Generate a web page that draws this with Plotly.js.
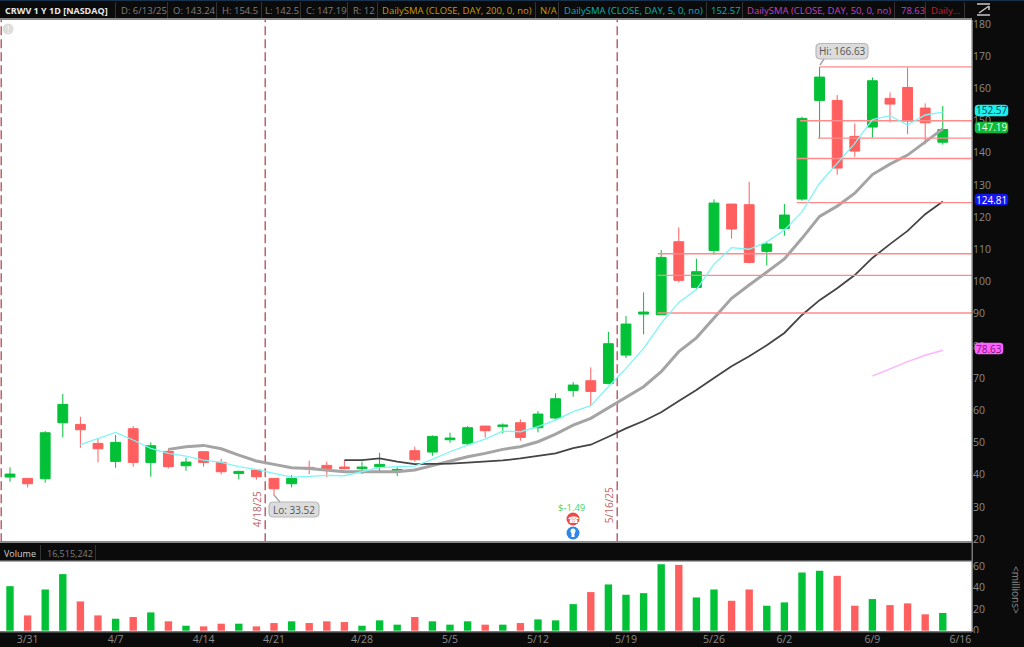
<!DOCTYPE html>
<html><head><meta charset="utf-8">
<script src="https://cdn.plot.ly/plotly-3.0.1.min.js"></script>
<style>html,body{margin:0;padding:0;background:#0b0b0b;overflow:hidden}#chart{width:1024px;height:647px}</style>
</head><body><div id="chart"></div>
<script>
const opens=[39.26,38.84,38.74,56.13,55.61,49.71,44.12,54.27,43.81,47.23,42.78,47.12,43.81,40.39,41.43,38.84,37.19,42.26,42.88,42.36,41.85,42.47,41.12,47.44,47.02,50.85,49.61,55.10,55.0,56.13,54.58,57.58,66.17,69.17,68.35,77.14,89.88,89.67,112.34,98.16,109.65,124.04,123.83,109.34,116.48,125.59,156.23,156.23,145.05,147.95,156.85,160.26,153.85,143.24];
const highs=[42.26,38.84,53.54,65.03,57.99,51.37,52.30,55.09,50.02,48.16,45.26,47.33,44.95,41.22,41.74,38.84,39.88,44.33,44.02,44.54,44.02,46.82,42.26,48.68,52.20,53.03,55.10,55.10,55.92,57.17,59.75,65.24,68.76,73.32,84.39,89.25,96.61,109.76,116.79,107.06,125.49,124.04,130.98,112.34,124.04,151.16,166.63,157.88,149.08,163.37,158.71,166.48,155.30,154.5];
const lows=[37.80,36.05,37.50,51.57,48.37,43.81,42.15,42.47,39.36,41.95,41.22,42.47,40.08,38.53,38.43,33.52,36.05,40.19,39.15,41.64,40.19,40.91,39.57,44.02,45.88,49.92,49.20,51.47,52.82,50.54,53.13,57.17,64.21,61.31,68.04,76.21,83.57,89.67,99.71,97.54,108.31,113.27,105.61,105.0,114.21,125.07,144.53,133.14,138.73,144.63,149.40,145.77,142.56,142.5];
const closes=[40.19,37.19,53.02,61.82,53.96,48.05,50.02,43.81,48.99,42.47,43.91,43.81,40.91,41.02,39.36,35.63,38.84,41.84,41.95,41.85,42.36,43.19,41.64,44.64,51.89,51.37,54.58,53.65,55.41,51.58,58.82,63.58,67.83,65.86,80.67,86.77,90.50,107.48,100.34,103.03,124.35,116.28,105.92,111.62,120.62,150.64,163.47,135.21,140.49,162.33,155.09,149.81,149.29,147.19];
const volumes=[41.4,14.2,38.3,52.6,27.2,14.2,11.1,12.7,17,8.7,4.6,4,6.5,6.5,4,7.1,8.7,7.1,8.7,8,4.6,9.6,5.6,12.7,8.7,5.6,8.7,5.6,5.6,7.1,10.5,9.6,24.7,35.9,43,33.4,34.9,61.8,61.2,30.9,38.3,27.8,38.3,23.2,26.3,54.1,55.7,51,23.2,29.4,23.8,25.4,15.2,16.5];
const smaFive=[null,null,null,null,49.30,51.16,53.13,50.76,48.16,46.61,45.78,44.54,43.81,42.47,41.64,40.39,39.26,39.46,39.77,39.67,40.91,42.16,42.47,42.67,44.75,47.12,49.2,51.06,53.54,53.33,54.89,56.96,59.55,61.41,67.31,73.0,79.2,87.0,93.5,97.5,105.4,110.5,110,112.3,116,121.6,130.5,136.7,142.9,150.3,151.5,148.6,151.7,152.57];
const smaGray=[null,null,null,null,null,null,null,null,null,47.85,48.7,49.09,48.05,46.09,44.22,43.19,42.15,41.95,41.33,40.91,40.91,40.91,40.91,41.43,42.78,44.33,45.57,46.61,47.85,48.68,50.23,52.61,55.41,57.48,60.79,64.21,67.31,71.97,78.2,82.5,88.5,94.75,98.9,103,107,113.4,120.2,123.4,127.4,133.2,136.45,139.25,143.4,147.4];
const smaDark=[null,null,null,null,null,null,null,null,null,null,null,null,null,null,null,null,null,null,null,44.54,44.54,45.05,44.02,43.3,43.3,43.4,43.71,44.02,44.43,45.05,45.78,46.61,48.26,49.3,51.78,54.37,56.65,59.4,62.9,66.3,70,73.7,76.8,80.2,84,89.6,94.2,97.9,102,107.3,111.6,115.7,120.9,124.81];
const smaPink=[null,null,null,null,null,null,null,null,null,null,null,null,null,null,null,null,null,null,null,null,null,null,null,null,null,null,null,null,null,null,null,null,null,null,null,null,null,null,null,null,null,null,null,null,null,null,null,null,null,70.6,72.9,75.1,77.1,78.63];
const levelValues=[166.63,149.9,144.53,138.2,124.5,108.6,101.9,90.2];
const levelStarts=[46,44.9,45.9,44.7,44.7,36.8,36.8,36.8];
const levelEnds=[55,55,55,55,55,55,55,55];
const markerBars=[-0.5,14.5,34.5];
const markerDates=["","4/18/25","5/16/25"];
const xTickBars=[1,6,11,15,20,25,30,35,40,44,49,54];
const xTickLabels=["3/31","4/7","4/14","4/21","4/28","5/5","5/12","5/19","5/26","6/2","6/9","6/16"];
const priceTicks=[20,30,40,50,60,70,80,90,100,110,120,130,140,150,160,170,180];
const volumeTicks=[0,20,40,60];
const headerItems=[
 ["CRWV 1 Y 1D [NASDAQ]",3,"#e8e8e8",true],["D: 6/13/25",119,"#7f7f7f"],["O: 143.24",171,"#7f7f7f"],["H: 154.5",220,"#7f7f7f"],
 ["L: 142.5",263,"#7f7f7f"],["C: 147.19",304,"#7f7f7f"],["R: 12",351,"#7f7f7f"],["DailySMA (CLOSE, DAY, 200, 0, no)",380,"#c49a00"],
 ["N/A",538,"#c49a00"],["DailySMA (CLOSE, DAY, 5, 0, no)",562,"#00b3b3"],["152.57",709,"#00b3b3"],
 ["DailySMA (CLOSE, DAY, 50, 0, no)",745,"#c23fc2"],["78.63",899,"#c23fc2"],["Daily...",929,"#c01f35"]];
const headerSeps=[115,167,216,261,300,347,377,535,558,706,742,894,925,964];

const GREEN="#02c137",RED="#ff5f5f",FONT='"Open Sans","Noto Sans",sans-serif';
const bars=closes.map((_,i)=>i);
const X=i=>i/1024, Y=i=>1-i/647;
const line=(y,c,w)=>({x:bars,y:y,yaxis:"y",type:"scatter",mode:"lines",hoverinfo:"skip",line:{color:c,width:w},connectgaps:false});

const data=[];
markerBars.forEach(b=>data.push({x:[b,b],y:[19,182],type:"scatter",mode:"lines",hoverinfo:"skip",line:{color:"#b34a52",width:1.3,dash:"9px,4px"}}));
data.push(line(smaGray,"#a4a4a4",3));
data.push(line(smaDark,"#444444",1.8));
data.push(line(smaPink,"#ffb3ff",1.5));
data.push({type:"candlestick",x:bars,open:opens,high:highs,low:lows,close:closes,xaxis:"x",yaxis:"y",whiskerwidth:0,
  increasing:{line:{color:GREEN,width:1},fillcolor:GREEN},decreasing:{line:{color:RED,width:1},fillcolor:RED},hoverinfo:"skip"});
levelValues.forEach((v,i)=>data.push({x:[levelStarts[i],levelEnds[i]],y:[v,v],type:"scatter",mode:"lines",hoverinfo:"skip",line:{color:"#ff8a8a",width:1.4}}));
data.push(line(smaFive,"#7ff5f5",1.3));
data.push({type:"bar",x:bars,y:volumes,yaxis:"y2",width:0.42,marker:{color:closes.map((c,i)=>c>=opens[i]?GREEN:RED),line:{width:0}},hoverinfo:"skip"});

const ann=[];
const txt=(t,px,py,c,s,extra)=>Object.assign({text:t,xref:"paper",yref:"paper",x:X(px),y:Y(py),xanchor:"left",yanchor:"middle",showarrow:false,font:{family:FONT,size:s,color:c}},extra||{});
headerItems.forEach(h=>ann.push(h[3]?txt("<b>"+h[0]+"</b>",h[1],10,h[2],9):txt(h[0],h[1],10,h[2],9.5)));
ann.push(txt("Volume",2,553,"#d0d0d0",9));
ann.push(txt("16,515,242",45,553,"#7f7f7f",9));
ann.push(txt("<millions>",1016,590,"#8a8a8a",10,{xanchor:"center",textangle:90}));
markerDates.forEach((d,i)=>{ if(d) ann.push({text:d,xref:"x",yref:"paper",x:markerBars[i],y:Y(i==1?509:505),xshift:-8,xanchor:"center",yanchor:"middle",textangle:-90,showarrow:false,font:{family:FONT,size:10,color:"#b66"}}); });

const shapes=[];
const pRect=(x0,y0,x1,y1,c,l)=>({type:"rect",xref:"paper",yref:"paper",x0:X(x0),x1:X(x1),y0:Y(y0),y1:Y(y1),fillcolor:c,line:{width:0},layer:l||"above"});
const round=(x0,y0,x1,y1,r,c,b,bw)=>{const P=(a,d)=>X(a)+","+Y(d);
  return {type:"path",xref:"paper",yref:"paper",layer:"above",fillcolor:c,line:{color:b,width:bw},
   path:"M"+P(x0+r,y0)+" L"+P(x1-r,y0)+" Q"+P(x1,y0)+" "+P(x1,y0+r)+" L"+P(x1,y1-r)+" Q"+P(x1,y1)+" "+P(x1-r,y1)+" L"+P(x0+r,y1)+" Q"+P(x0,y1)+" "+P(x0,y1-r)+" L"+P(x0,y0+r)+" Q"+P(x0,y0)+" "+P(x0+r,y0)+" Z"};};
const tag=(t,x0,x1,y0,y1,bg,fg)=>{shapes.push(round(x0,y0,x1,y1,3,bg,bg,0.5));ann.push(txt(t,(x0+x1)/2,(y0+y1)/2,fg,10,{xanchor:"center"}));};
const bubble=(t,x0,x1,y0,y1)=>{shapes.push(round(x0,y0,x1,y1,4.5,"#dcdcdc","#b8b8b8",1.2));ann.push(txt(t,(x0+x1)/2,(y0+y1)/2,"#555555",10,{xanchor:"center"}));};

shapes.push(pRect(0,0,1024,1,"#17324d"));
shapes.push(pRect(0,18,972,20,"#8a8a8a"));
shapes.push(pRect(0,541,972,543,"#8a8a8a"));
shapes.push(pRect(0,543,972,561,"#0b0b0b"));
shapes.push(pRect(0,560,972,561.5,"#555555"));
shapes.push(pRect(0,631,972,632.5,"#777777"));
shapes.push(pRect(971.5,20,973,632,"#777777"));
shapes.push(pRect(973,633,1024,647,"#0b0b0b"));
headerSeps.forEach(s=>shapes.push(pRect(s,2,s+1,18,"#333333")));
[40,95].forEach(s=>shapes.push(pRect(s,545,s+1,560,"#333333")));
tag("152.57",975,1008,105,116,"#19f0f0","#06404a");
tag("147.19",975,1008,122,133,"#10b83a","#e8ffe8");
tag("124.81",975,1008,194,205,"#1515f0","#ffffff");
tag("78.63",975,1003,343,354,"#ff60ff","#7a1a7a");
bubble("Hi: 166.63",816,868,43.5,59);
bubble("Lo: 33.52",269,319,502,517);
ann.push(txt("$-1.49",571,507,"#45d468",9.5,{xanchor:"center"}));
ann.push(txt("☎",573,519.5,"#ffffff",9,{xanchor:"center"}));
ann.push(txt("!",8,29,"#ffffff",9,{xanchor:"center"}));
const seg=(a,b,c,d,col,w)=>({type:"line",xref:"paper",yref:"paper",x0:X(a),y0:Y(b),x1:X(c),y1:Y(d),line:{color:col,width:w},layer:"above"});
shapes.push(seg(820,65,824,59,"#a8a8a8",1.5));
shapes.push(seg(274,495,280,502,"#a8a8a8",1.5));
shapes.push(seg(977,4,990,4,"#c8c8c8",1.5));shapes.push(seg(977,15,990,15,"#c8c8c8",1.5));shapes.push(seg(979,13,989,6,"#c8c8c8",1.5));shapes.push(seg(989,6,989,10,"#c8c8c8",1.5));
const circ=(cx,cy,r,c)=>({type:"circle",xref:"paper",yref:"paper",x0:X(cx-r),x1:X(cx+r),y0:Y(cy-r),y1:Y(cy+r),fillcolor:c,line:{width:0},layer:"below"});
shapes.push(circ(8,29,5.5,"#dddddd"));
shapes.push(circ(573,519,6.5,"#ee4a4a"));
shapes.push(circ(573,533,6.5,"#2e86e8"));
shapes.push({type:"circle",xref:"paper",yref:"paper",x0:X(570.5),x1:X(575.5),y0:Y(533.5),y1:Y(528.5),fillcolor:"#ffffff",line:{width:0},layer:"above"});
shapes.push(pRect(571.5,533,574.5,537,"#ffffff"));

const axisFont={family:FONT,size:10.5,color:"#8a8a8a"};
Plotly.newPlot("chart",data,{
  width:1024,height:647,margin:{l:0,r:0,t:0,b:0,pad:0},autosize:false,
  paper_bgcolor:"#0b0b0b",plot_bgcolor:"#ffffff",showlegend:false,boxgap:0.2,dragmode:false,hovermode:false,
  xaxis:{domain:[0,972/1024],range:[-0.568,54.66],anchor:"y2",tickmode:"array",tickvals:xTickBars,ticktext:xTickLabels,ticklen:0,showgrid:false,zeroline:false,showline:false,tickfont:axisFont,rangeslider:{visible:false},fixedrange:true},
  yaxis:{domain:[Y(541),Y(20)],range:[19.4,181.2],side:"right",anchor:"x",tickmode:"array",tickvals:priceTicks,ticklen:0,showgrid:false,zeroline:false,showline:false,tickfont:axisFont,fixedrange:true},
  yaxis2:{domain:[Y(631),Y(561)],range:[-0.3,64.8],side:"right",anchor:"x",tickmode:"array",tickvals:volumeTicks,ticklen:0,showgrid:false,zeroline:false,showline:false,tickfont:axisFont,fixedrange:true},
  shapes:shapes,annotations:ann
},{displayModeBar:false,staticPlot:true});
</script></body></html>
